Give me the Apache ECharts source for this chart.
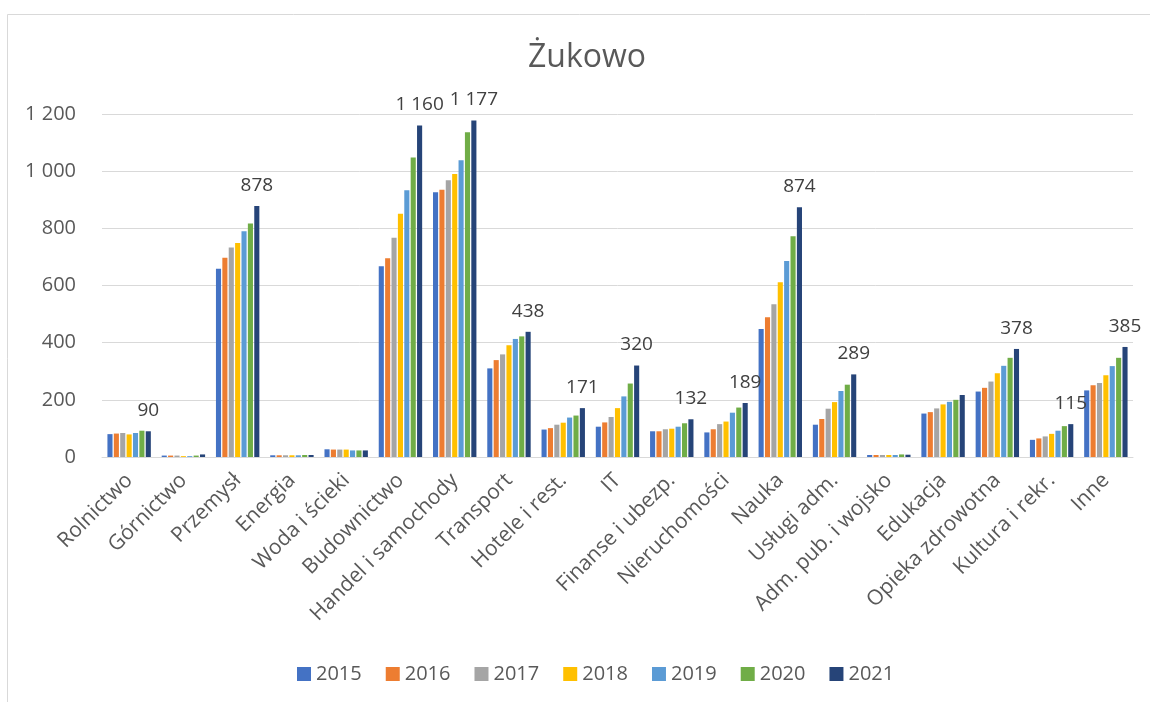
<!DOCTYPE html>
<html><head><meta charset="utf-8">
<script src="https://cdn.jsdelivr.net/npm/echarts@6/dist/echarts.min.js"></script>
<style>html,body{margin:0;padding:0;background:#fff}#c{width:1150px;height:702px}</style>
</head><body><div id="c"></div>
<script>
const categories = ["Rolnictwo","Górnictwo","Przemysł","Energia","Woda i ścieki","Budownictwo","Handel i samochody","Transport","Hotele i rest.","IT","Finanse i ubezp.","Nieruchomości","Nauka","Usługi adm.","Adm. pub. i wojsko","Edukacja","Opieka zdrowotna","Kultura i rekr.","Inne"];
const years = ["2015","2016","2017","2018","2019","2020","2021"];
const v2015 = [80,5,659,6,27,667,926,310,96,106,90,86,448,113,7,152,229,60,233];
const v2016 = [82,5,697,6,26,695,935,339,101,121,90,97,489,133,7,157,242,65,251];
const v2017 = [84,5,733,6,26,767,968,359,113,140,97,115,534,169,7,170,264,72,259];
const v2018 = [79,3,749,6,26,851,990,391,120,171,99,124,611,192,7,184,293,81,286];
const v2019 = [84,3,790,6,23,933,1038,413,138,212,106,155,686,231,7,193,319,92,318];
const v2020 = [92,5,817,7,23,1048,1136,422,145,257,118,173,772,253,9,200,347,108,347];
const v2021 = [90,9,878,7,23,1160,1177,438,171,320,132,189,874,289,8,217,378,115,385];
const labeled2021 = ["Rolnictwo","Przemysł","Budownictwo","Handel i samochody","Transport","Hotele i rest.","IT","Finanse i ubezp.","Nieruchomości","Nauka","Usługi adm.","Opieka zdrowotna","Kultura i rekr.","Inne"];
const yTicks = [0,200,400,600,800,1000,1200];

const colors = ['#4472C4','#ED7D31','#A5A5A5','#FFC000','#5B9BD5','#70AD47','#264478'];
const allValues = [v2015,v2016,v2017,v2018,v2019,v2020,v2021];
const fmt = n => String(n).replace(/\B(?=(\d{3})+(?!\d))/g, ' ');
const FONT = 'Open Sans';

const series = years.map((y, i) => {
  const vals = allValues[i];
  const isLast = i === years.length - 1;
  return {
    name: y, type: 'bar',
    barGap: '25%', barCategoryGap: '20%',
    itemStyle: { color: colors[i] },
    data: vals.map((v, k) => isLast && labeled2021.includes(categories[k])
      ? { value: v, label: { show: true } } : v),
    label: { show: false, position: 'top', distance: 11, fontSize: 19, color: '#404040', fontFamily: FONT,
      formatter: p => fmt(p.value) }
  };
});

const chart = echarts.init(document.getElementById('c'), null, { renderer: 'canvas' });
chart.setOption({
  animation: false,
  backgroundColor: '#fff',
  color: colors,
  title: { text: 'Żukowo', left: 523, top: 37, textStyle: { fontSize: 32, fontWeight: 'normal', color: '#595959', fontFamily: FONT } },
  graphic: [{ type: 'rect', shape: { x: 7.5, y: 14.5, width: 1200, height: 800 }, style: { fill: 'none', stroke: '#D9D9D9', lineWidth: 1 }, silent: true }],
  grid: { left: 102, right: 17, top: 114, bottom: 245, containLabel: false },
  legend: { top: 659, left: 292, itemWidth: 14, itemHeight: 14, itemGap: 24, icon: 'rect',
    textStyle: { fontSize: 20, color: '#595959', fontFamily: FONT }, data: years },
  xAxis: { type: 'category', data: categories,
    axisLine: { lineStyle: { color: '#D9D9D9' } }, axisTick: { show: false },
    axisLabel: { interval: 0, rotate: 45, fontSize: 21, color: '#595959', fontFamily: FONT, margin: 20 } },
  yAxis: { type: 'value', min: yTicks[0], max: yTicks[yTicks.length-1], interval: yTicks[1]-yTicks[0],
    axisLine: { show: false }, axisTick: { show: false },
    splitLine: { lineStyle: { color: '#D9D9D9', width: 1 } },
    axisLabel: { fontSize: 20, color: '#595959', fontFamily: FONT, margin: 26, formatter: v => fmt(v) } },
  series
});
</script></body></html>
